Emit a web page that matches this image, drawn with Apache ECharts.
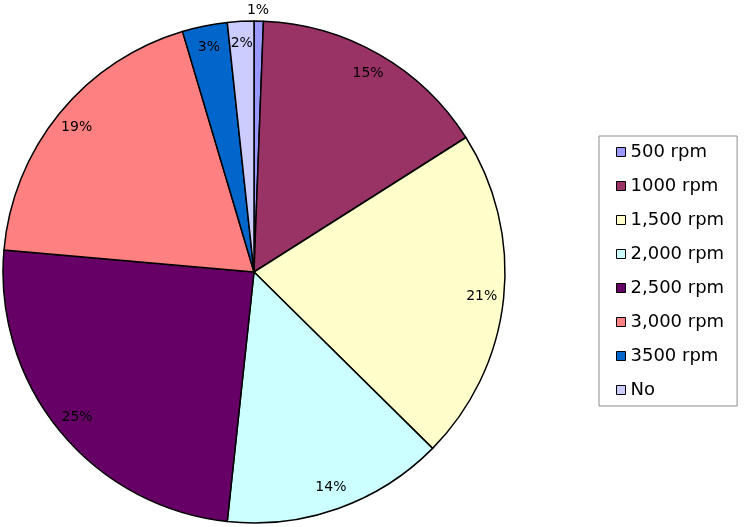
<!DOCTYPE html>
<html>
<head>
<meta charset="utf-8">
<script src="https://cdn.jsdelivr.net/npm/echarts@6/dist/echarts.min.js"></script>
<style>
  html, body { margin: 0; padding: 0; background: #fff; }
  #main { width: 746px; height: 527px; }
</style>
</head>
<body>
<div id="main"></div>
<script>
var names = ['500 rpm', '1000 rpm', '1,500 rpm', '2,000 rpm', '2,500 rpm', '3,000 rpm', '3500 rpm', 'No'];
var shares = [0.6, 15.4, 21.4, 14.3, 24.7, 19.0, 2.9, 1.7];
var colors = ['#9999FF', '#993366', '#FFFFCC', '#CCFFFF', '#660066', '#FF8080', '#0066CC', '#CCCCFF'];

var chart = echarts.init(document.getElementById('main'));

// main slices
var pieData = [];
for (var i = 0; i < names.length; i++) {
  pieData.push({ name: names[i], value: shares[i], itemStyle: { color: colors[i] } });
}

// same slices again, transparent ring, only to carry the labels near the rim
var labelData = [];
for (var i = 0; i < names.length; i++) {
  var item = { name: names[i], value: shares[i] };
  if (i == 0) {
    // tiny slice: label sits above the rim
    item.label = { position: 'outside' };
    item.labelLine = { show: false, length: 11, length2: -17 };
  }
  labelData.push(item);
}

var option = {
  animation: false,
  color: colors,
  legend: {
    orient: 'vertical',
    left: 599,
    top: 136,
    data: names,
    icon: 'rect',
    itemWidth: 9,
    itemHeight: 9,
    itemGap: 14,
    padding: [6, 13, 6, 17],
    borderColor: '#8c8c8c',
    borderWidth: 1,
    backgroundColor: '#fff',
    selectedMode: false,
    itemStyle: { borderColor: '#000', borderWidth: 1 },
    textStyle: {
      fontFamily: 'DejaVu Sans',
      fontSize: 18,
      lineHeight: 20,
      color: '#000'
    }
  },
  series: [
    {
      type: 'pie',
      center: [254, 272],
      radius: 251,
      startAngle: 90,
      clockwise: true,
      silent: true,
      label: { show: false },
      labelLine: { show: false },
      itemStyle: { borderColor: '#000', borderWidth: 1.5 },
      data: pieData
    },
    {
      type: 'pie',
      center: [254, 272],
      radius: [201, 251],
      startAngle: 90,
      clockwise: true,
      silent: true,
      itemStyle: { color: 'rgba(0,0,0,0)', borderWidth: 0 },
      label: {
        show: true,
        position: 'inside',
        fontFamily: 'DejaVu Sans',
        fontSize: 14,
        fontWeight: 'normal',
        color: '#000',
        formatter: function (p) { return Math.round(p.value) + '%'; }
      },
      labelLine: { show: false },
      data: labelData
    }
  ]
};

chart.setOption(option);
</script>
</body>
</html>
